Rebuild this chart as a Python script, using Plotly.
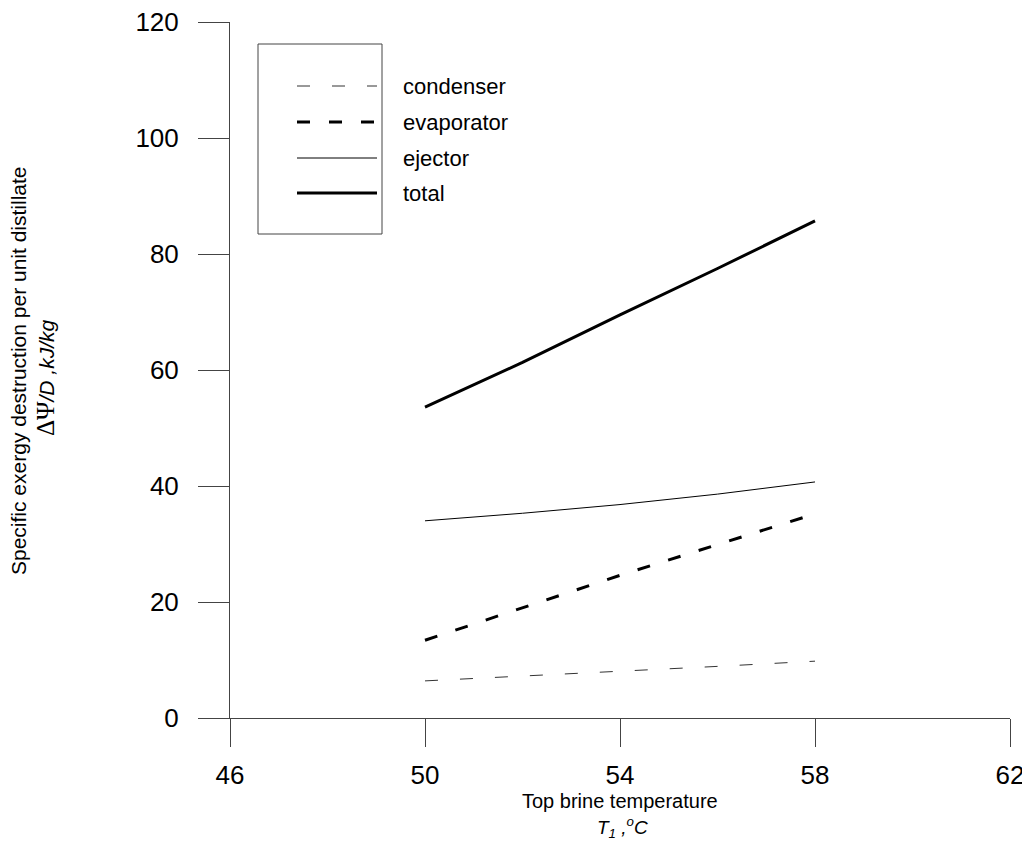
import plotly.graph_objects as go

# Data
temps = [50, 52, 54, 56, 58]
condenser = [6.4, 7.2, 8.1, 8.9, 9.8]
evaporator = [13.4, 19.0, 24.6, 29.9, 35.2]
ejector = [34.0, 35.3, 36.8, 38.6, 40.7]
total = [53.6, 61.3, 69.5, 77.5, 85.7]

series_names = ["condenser", "evaporator", "ejector", "total"]
x_ticks = [46, 50, 54, 58, 62]
y_ticks = [0, 20, 40, 60, 80, 100, 120]

# page has an 8px body margin; size the figure to fit the 1030x849 window
OFF = 8
W, H = 1030 - OFF, 849 - 2 * OFF
# plot area in screen pixels
SL, ST, SR, SB = 230, 22, 1010, 718
L, T = SL - OFF, ST - OFF
R, B = W - (SR - OFF), H - (SB - OFF)
PW, PH = SR - SL, SB - ST

def px(x):
    return (x - SL) / PW

def py(y):
    return (SB - y) / PH

styles = {
    "condenser": dict(color="#333333", width=1, dash="13px,22px"),
    "evaporator": dict(color="black", width=3, dash="13px,19px"),
    "ejector": dict(color="black", width=1, dash="solid"),
    "total": dict(color="black", width=3, dash="solid"),
}
values = {"condenser": condenser, "evaporator": evaporator, "ejector": ejector, "total": total}

fig = go.Figure()
for name in series_names:
    fig.add_trace(go.Scatter(x=temps, y=values[name], mode="lines", name=name,
                             line=styles[name], showlegend=False))

font = "Liberation Sans, Arial, sans-serif"
shapes = []
annotations = []

# Legend box
shapes.append(dict(type="rect", xref="paper", yref="paper",
                   x0=px(258), x1=px(382), y0=py(234), y1=py(44),
                   line=dict(color="#444444", width=1), fillcolor="white", layer="below"))
leg_y = [86, 122, 158, 193]
for name, yy in zip(series_names, leg_y):
    st = styles[name]
    shapes.append(dict(type="line", xref="paper", yref="paper",
                       x0=px(297), x1=px(377), y0=py(yy), y1=py(yy),
                       line=dict(color=st["color"], width=st["width"], dash=st["dash"])))
    annotations.append(dict(xref="paper", yref="paper", x=px(401), y=py(yy), text=name,
                            showarrow=False, xanchor="left", yanchor="middle",
                            font=dict(family=font, size=22, color="black")))

# Axis titles
annotations.append(dict(xref="paper", yref="paper", x=px(620), y=py(801),
                        text="Top brine temperature", showarrow=False,
                        xanchor="center", yanchor="middle",
                        font=dict(family=font, size=20, color="black")))
annotations.append(dict(xref="paper", yref="paper", x=px(622), y=py(827),
                        text="<i>T<sub>1</sub> ,<sup>o</sup>C</i>", showarrow=False,
                        xanchor="center", yanchor="middle",
                        font=dict(family=font, size=19, color="black")))
annotations.append(dict(xref="paper", yref="paper", x=px(19), y=py(371),
                        text="Specific exergy destruction per unit distillate", showarrow=False,
                        textangle=-90, xanchor="center", yanchor="middle",
                        font=dict(family=font, size=21, color="black")))
annotations.append(dict(xref="paper", yref="paper", x=px(45), y=py(378),
                        text="<span style='font-family:Liberation Serif;font-size:25px'>ΔΨ</span><i>/D</i> <i>,kJ/kg</i>",
                        showarrow=False, textangle=-90, xanchor="center", yanchor="middle",
                        font=dict(family=font, size=21, color="black")))

fig.update_layout(
    width=W, height=H,
    margin=dict(l=L, r=R, t=T, b=B, autoexpand=False),
    paper_bgcolor="white", plot_bgcolor="white",
    font=dict(family=font, size=26, color="black"),
    shapes=shapes, annotations=annotations,
    showlegend=False,
)
fig.update_xaxes(range=[46, 62], tickvals=x_ticks, ticktext=[str(v) for v in x_ticks],
                 showgrid=False, zeroline=False, showline=True, linecolor="#444444", linewidth=1,
                 ticks="outside", ticklen=28, tickcolor="#444444", tickfont=dict(size=26),
                 ticklabelstandoff=6, ticklabeloverflow="allow", automargin=False)
fig.update_yaxes(range=[0, 120], tickvals=y_ticks, ticktext=[str(v) for v in y_ticks],
                 showgrid=False, zeroline=False, showline=True, linecolor="#444444", linewidth=1,
                 ticks="outside", ticklen=31, tickcolor="#444444", tickfont=dict(size=26),
                 ticklabelstandoff=14, ticklabeloverflow="allow", automargin=False)

fig.write_html("out.html")
